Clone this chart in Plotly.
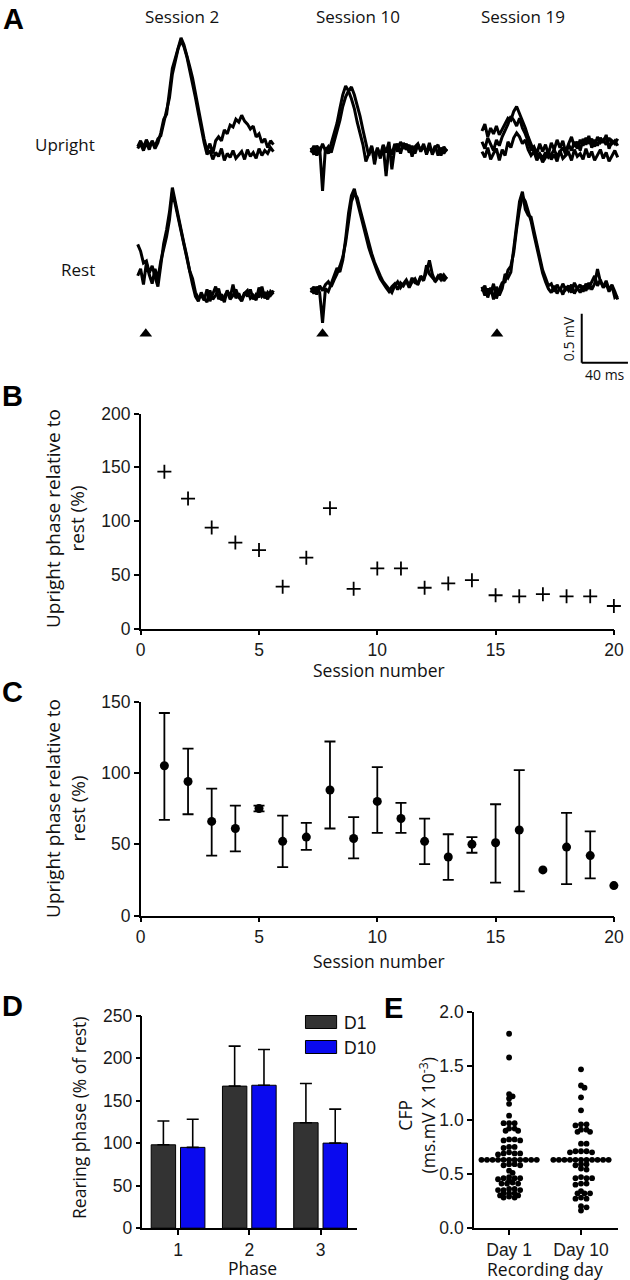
import numpy as np
import plotly.graph_objects as go

# Positions below are given in reference-picture pixels; the page is captured with a
# slight rescale, so they are mapped to figure pixels through SX/OX and SY/OY.
SX, OX = 0.9724, 5.9
SY, OY = 0.9848, 9.3
W, H = 648, 1300
TEXT_FONT = "Open Sans"
TICK_FONT = "Liberation Sans"


def fx(px):
    return ((px - OX) / SX) / W


def fy(px):
    return 1 - ((px - OY) / SY) / H


# ---------------- Panel A: example field-potential sweeps (µV) ----------------
DT_MS = 2.5
sessions = ["Session 2", "Session 10", "Session 19"]
rows = ["Upright", "Rest"]
stim_ms = [7, 10, 13]

s2_up_a = [-20, 40, -30, 50, -10, 30, -40, 20, 120, 260, 310, 520, 780, 880, 1000, 1090, 1020, 920, 800, 680, 520, 360, 200, 60,
           -60, 10, -90, 40, 80, 40, 150, 110, 200, 180, 260, 230, 300, 240, 210, 160, 190, 80, 110, 20, 60, -30, 40, 0]
s2_up_b = [-40, 10, -60, 20, -50, 40, -20, 60, 90, 220, 330, 480, 720, 860, 980, 1060, 1000, 900, 760, 640, 480, 320, 150, 20,
           -100, -60, -150, -80, -120, -40, -160, -90, -130, -60, -140, -100, -70, -150, -50, -120, -80, -140, -40, -110, -60, -90, -30, -70]
s2_rest_a = [370, 300, 180, 200, 80, 150, 40, -60, 160, 380, 520, 700, 950, 800, 680, 520, 380, 250, 100, 20, -120, -180, -150, -200,
             -90, -210, -130, -60, -190, -140, -220, -100, -170, -40, -180, -130, -200, -120, -160, -90, -190, -140, -170, -60, -180, -120, -150, -100]
s2_rest_b = [50, 120, -40, 180, 60, -30, 120, 20, 200, 330, 450, 620, 900, 780, 640, 500, 350, 210, 70, -40, -160, -210, -120, -180,
             -220, -100, -190, -150, -80, -200, -160, -110, -190, -150, -90, -170, -210, -130, -100, -180, -150, -200, -70, -160, -130, -190, -110, -140]
s10_up_a = [-30, 40, -60, 30, -420, 20, -40, 60, 150, 270, 420, 560, 650, 600, 520, 420, 280, 160, 50, -120, -40, 30, -80, 20,
            -90, 40, -270, 30, -50, 60, -20, 80, 10, 60, -30, 40, -40, 50, -10, 60, -50, 30, -30, 40, -60, 20, -40, 10]
s10_up_b = [20, -50, 40, -20, 60, -10, 30, -30, 80, 180, 300, 440, 540, 600, 640, 560, 460, 340, 200, 80, -60, 40, -150, 10,
            -60, 50, -30, 80, -200, 20, 60, -40, 70, 0, 50, -70, 30, 60, -20, 40, -30, 70, -50, 20, 50, -60, 30, -20]
s10_rest_a = [20, -40, 30, -30, -340, 10, -20, 60, 140, 220, 180, 300, 520, 780, 960, 1030, 900, 780, 660, 540, 430, 340, 250, 180,
              110, 60, 20, -20, 30, 60, 0, 70, 40, 90, 20, 80, 110, 50, 130, 90, 250, 160, 120, 90, 140, 100, 150, 110]
s10_rest_b = [-30, 30, -50, 40, -10, 50, 80, 30, 100, 160, 240, 330, 480, 700, 900, 980, 940, 820, 700, 580, 470, 370, 280, 200,
              140, 80, 40, 0, -30, 40, 80, 20, 60, 100, 40, 120, 70, 60, 140, 100, 180, 300, 160, 80, 120, 160, 90, 130]
s19_up_a = [150, 220, 90, 180, 120, 200, 110, 170, 230, 280, 260, 350, 400, 330, 260, 180, 90, 20, -60, -110, -80, -130, -70, -120,
            -90, -40, -110, -60, -20, -90, 10, -50, 40, -30, 60, 0, 80, 20, 70, -10, 90, 30, 60, 10, 80, 20, 50, 0]
s19_up_b = [-60, -120, -20, -140, -80, -30, -150, -40, -100, 40, -20, 80, 130, 90, 20, 60, -40, -100, -60, -150, -90, -170, -120, -60,
            -140, -90, -160, -50, -130, -100, -70, -150, -40, -110, -80, -140, -30, -120, -60, -150, -90, -40, -130, -70, -160, -100, -50, -120]
s19_up_c = [40, -30, 80, 10, -50, 60, 0, 90, 150, 220, 300, 260, 200, 280, 180, 120, 40, -40, -10, -80, 20, -60, 10, -90,
            30, -40, 60, -20, 50, -70, 20, 90, -10, 40, -50, 70, 10, 100, -20, 60, 0, 80, 30, 110, -30, 50, 20, 70]
s19_rest_a = [-20, 40, -80, 20, -100, 30, -60, 10, 160, 120, 180, 420, 700, 900, 1000, 820, 760, 740, 600, 460, 330, 200, 120, 40,
              60, -20, 50, -10, 60, 0, 40, -30, 70, 10, 50, -20, 60, 20, 80, 140, 40, 100, 20, 60, -20, 40, -80, -60]
s19_rest_b = [30, -60, 10, -40, 60, -90, 0, 70, 80, 200, 240, 380, 620, 820, 950, 900, 800, 700, 560, 420, 290, 170, 80, 10,
              -30, 40, -40, 20, -50, 30, -10, 50, -40, 20, -30, 40, -10, 70, 0, 60, 210, 80, 30, 90, 0, 50, -20, -100]

sweeps = {
    ("Session 2", "Upright"): [s2_up_a, s2_up_b],
    ("Session 2", "Rest"): [s2_rest_a, s2_rest_b],
    ("Session 10", "Upright"): [s10_up_a, s10_up_b],
    ("Session 10", "Rest"): [s10_rest_a, s10_rest_b],
    ("Session 19", "Upright"): [s19_up_a, s19_up_b, s19_up_c],
    ("Session 19", "Rest"): [s19_rest_a, s19_rest_b],
}
scale_bar_mv = 0.5
scale_bar_ms = 40

# ---------------- Panel B ----------------
session_num = list(range(1, 21))
b_values = [146, 121, 94, 80, 73, 39, 66, 112, 37, 56, 56, 38, 42, 45, 31, 30, 32, 30, 30, 21]

# ---------------- Panel C ----------------
c_mean = [105, 94, 66, 61, 75, 52, 55, 88, 54, 80, 68, 52, 41, 50, 51, 60, 32, 48, 42, 21]
c_upper = [142, 117, 89, 77, 77, 70, 65, 122, 69, 104, 79, 68, 57, 55, 78, 102, None, 72, 59, None]
c_lower = [67, 71, 42, 45, 73, 34, 46, 61, 40, 58, 58, 36, 25, 44, 23, 17, None, 22, 26, None]

# ---------------- Panel D ----------------
phases = [1, 2, 3]
d1_mean = [98, 167, 124]
d1_sd = [28, 47, 46]
d10_mean = [95, 168, 100]
d10_sd = [33, 42, 40]

# ---------------- Panel E ----------------
day_labels = ["Day 1", "Day 10"]
day1_cfp = [1.80, 1.58, 1.24, 1.22, 1.20, 1.15, 1.04, 0.97, 0.97, 0.97, 0.92, 0.92, 0.90, 0.90, 0.82, 0.82, 0.81, 0.81,
            0.75, 0.75, 0.74, 0.70, 0.69, 0.69, 0.69, 0.68, 0.63, 0.63, 0.63, 0.63, 0.63, 0.63, 0.63, 0.63, 0.63, 0.63, 0.63,
            0.59, 0.59, 0.58, 0.58, 0.53, 0.51, 0.47, 0.46, 0.46, 0.46, 0.45, 0.44, 0.42, 0.41, 0.41, 0.41,
            0.36, 0.36, 0.35, 0.35, 0.35, 0.32, 0.32, 0.32, 0.30, 0.30, 0.29, 0.28, 0.28]
day10_cfp = [1.47, 1.32, 1.30, 1.21, 1.09, 0.96, 0.96, 0.95, 0.91, 0.91, 0.89, 0.89, 0.78, 0.78, 0.71, 0.71, 0.71, 0.70, 0.70,
             0.63, 0.63, 0.63, 0.63, 0.63, 0.63, 0.63, 0.63, 0.63, 0.63, 0.63, 0.59, 0.59, 0.58, 0.55, 0.54,
             0.47, 0.46, 0.46, 0.46, 0.41, 0.41, 0.40, 0.34, 0.32, 0.32, 0.32, 0.28, 0.27, 0.27, 0.20, 0.19, 0.16]

fig = go.Figure()

# ---------------- Panel A drawing ----------------
A_PX_PER_MS = 1.15      # reference pixels per ms
A_PX_PER_UV = 0.098     # reference pixels per µV
A_BOT = 400
col_start_ms = [120, 270, 418]
row_base_px = {"Upright": [144, 149, 145], "Rest": [280, 289, 289]}
A_LEFT_REF = OX                      # reference px at figure x = 0
A_RIGHT_REF = OX + SX * W            # reference px at figure x = W
A_TOP_REF = OY                       # reference px at figure y = 0


def a_uv(px):
    return (A_BOT - px) / A_PX_PER_UV


for c, sess in enumerate(sessions):
    for row in rows:
        base = a_uv(row_base_px[row][c])
        for sw in sweeps[(sess, row)]:
            t = col_start_ms[c] + DT_MS * np.arange(len(sw))
            fig.add_trace(go.Scatter(x=t, y=base + np.array(sw), mode="lines",
                                     line=dict(color="black", width=3), xaxis="x", yaxis="y",
                                     hoverinfo="skip", showlegend=False))

fig.add_trace(go.Scatter(x=[col_start_ms[i] + stim_ms[i] for i in range(3)], y=[a_uv(333)] * 3,
                         mode="markers", marker=dict(symbol="triangle-up", size=11, color="black"),
                         xaxis="x", yaxis="y", showlegend=False, hoverinfo="skip"))

sb_x0 = 580 / A_PX_PER_MS
sb_y0 = a_uv(362)
shapes = [
    dict(type="line", xref="x", yref="y", x0=sb_x0, x1=sb_x0, y0=sb_y0, y1=sb_y0 + scale_bar_mv * 1000,
         line=dict(color="black", width=2)),
    dict(type="line", xref="x", yref="y", x0=sb_x0, x1=sb_x0 + scale_bar_ms, y0=sb_y0, y1=sb_y0,
         line=dict(color="black", width=2)),
]

# ---------------- Panel B ----------------
fig.add_trace(go.Scatter(x=session_num, y=b_values, mode="markers", xaxis="x2", yaxis="y2",
                         marker=dict(symbol="cross-thin", size=10, line=dict(color="black", width=1.8)),
                         cliponaxis=False, showlegend=False))

# ---------------- Panel C ----------------
idx_err = [i for i in range(20) if c_upper[i] is not None]
idx_noerr = [i for i in range(20) if c_upper[i] is None]
fig.add_trace(go.Scatter(x=[session_num[i] for i in idx_err], y=[c_mean[i] for i in idx_err],
                         mode="markers", xaxis="x3", yaxis="y3",
                         marker=dict(symbol="circle", size=9, color="black"),
                         error_y=dict(type="data", symmetric=False,
                                      array=[c_upper[i] - c_mean[i] for i in idx_err],
                                      arrayminus=[c_mean[i] - c_lower[i] for i in idx_err],
                                      color="black", thickness=1.8, width=5.5),
                         cliponaxis=False, showlegend=False))
fig.add_trace(go.Scatter(x=[session_num[i] for i in idx_noerr], y=[c_mean[i] for i in idx_noerr],
                         mode="markers", xaxis="x3", yaxis="y3",
                         marker=dict(symbol="circle", size=9, color="black"),
                         cliponaxis=False, showlegend=False))

# ---------------- Panel D ----------------
D_DARK = "#333333"
D_BLUE = "#0a0aef"
fig.add_trace(go.Bar(x=phases, y=d1_mean, name="D1", xaxis="x4", yaxis="y4",
                     marker=dict(color=D_DARK, line=dict(color="black", width=1)),
                     error_y=dict(type="data", symmetric=False, array=d1_sd, arrayminus=[0] * 3,
                                  color="black", thickness=1.6, width=6),
                     showlegend=False))
fig.add_trace(go.Bar(x=phases, y=d10_mean, name="D10", xaxis="x4", yaxis="y4",
                     marker=dict(color=D_BLUE, line=dict(color="black", width=1)),
                     error_y=dict(type="data", symmetric=False, array=d10_sd, arrayminus=[0] * 3,
                                  color="black", thickness=1.6, width=6),
                     showlegend=False))
shapes += [
    dict(type="rect", xref="paper", yref="paper", x0=fx(305), x1=fx(336), y0=fy(1028), y1=fy(1015),
         fillcolor=D_DARK, line=dict(color="black", width=1)),
    dict(type="rect", xref="paper", yref="paper", x0=fx(305), x1=fx(336), y0=fy(1053), y1=fy(1040),
         fillcolor=D_BLUE, line=dict(color="black", width=1)),
]

# ---------------- Panel E ----------------
E_X0, E_X1 = 472.7, 616.0
E_Y0, E_Y1 = 1227.3, 1011.7
E_RANGE_X = [0.511, 2.513]
E_RANGE_Y = [0, 2]
E_PX_PER_CAT = (E_X1 - E_X0) / (E_RANGE_X[1] - E_RANGE_X[0])
E_PX_PER_Y = (E_Y0 - E_Y1) / (E_RANGE_Y[1] - E_RANGE_Y[0])
DOT_D = 5.5
ROW_SQUASH = 2.0  # points on nearby rows may overlap a little, as in the reference


def beeswarm(vals):
    placed = []
    offs = [0.0] * len(vals)
    order = sorted(range(len(vals)), key=lambda i: -vals[i])
    cands = [0.0]
    for k in range(1, 200):
        cands += [k * 0.5, -k * 0.5]
    for i in order:
        ypx = vals[i] * E_PX_PER_Y
        for cnd in cands:
            if all((cnd - px) ** 2 + (ROW_SQUASH * (ypx - py)) ** 2 >= DOT_D ** 2 for px, py in placed):
                placed.append((cnd, ypx))
                offs[i] = cnd / E_PX_PER_CAT
                break
    return offs


for gi, vals in enumerate([day1_cfp, day10_cfp]):
    xc = gi + 1
    offs = beeswarm(vals)
    fig.add_trace(go.Scatter(x=[xc + o for o in offs], y=vals, mode="markers", xaxis="x5", yaxis="y5",
                             marker=dict(size=5.8, color="black"), cliponaxis=False, showlegend=False))
    med = float(np.median(vals))
    fig.add_trace(go.Scatter(x=[xc - 0.42, xc + 0.42], y=[med, med], mode="lines", xaxis="x5", yaxis="y5",
                             line=dict(color="black", width=2), showlegend=False))

# ---------------- Layout ----------------
tickfont = dict(family=TICK_FONT, size=17.5, color="#1a1a1a")
ax = dict(showline=True, linecolor="black", linewidth=1.6, ticks="outside", ticklen=5, tickwidth=1.6,
          tickcolor="black", showgrid=False, zeroline=False, tickfont=tickfont, fixedrange=True)

fig.update_layout(
    width=W, height=H, margin=dict(l=0, r=0, t=0, b=0),
    paper_bgcolor="white", plot_bgcolor="white", showlegend=False,
    barmode="group", bargap=0.177, bargroupgap=0.168,
    xaxis=dict(domain=[0, 1], range=[A_LEFT_REF / A_PX_PER_MS, A_RIGHT_REF / A_PX_PER_MS],
               visible=False, anchor="y", fixedrange=True),
    yaxis=dict(domain=[fy(A_BOT), 1], range=[0, a_uv(A_TOP_REF)], visible=False, anchor="x",
               fixedrange=True),
    xaxis2=dict(ax, domain=[fx(141), fx(612)], range=[0, 20], tickvals=[0, 5, 10, 15, 20], anchor="y2"),
    yaxis2=dict(ax, domain=[fy(628), fy(413)], range=[0, 200], tickvals=[0, 50, 100, 150, 200], anchor="x2"),
    xaxis3=dict(ax, domain=[fx(141), fx(612)], range=[0, 20], tickvals=[0, 5, 10, 15, 20], anchor="y3"),
    yaxis3=dict(ax, domain=[fy(915), fy(701)], range=[0, 150], tickvals=[0, 50, 100, 150], anchor="x3"),
    xaxis4=dict(ax, domain=[fx(142.7), fx(356.7)], range=[0.5, 3.517], tickvals=phases, anchor="y4"),
    yaxis4=dict(ax, domain=[fy(1227.7), fy(1015)], range=[0, 250], tickvals=[0, 50, 100, 150, 200, 250], anchor="x4"),
    xaxis5=dict(ax, domain=[fx(E_X0), fx(E_X1)], range=E_RANGE_X, tickvals=[1, 2], ticktext=day_labels, anchor="y5"),
    yaxis5=dict(ax, domain=[fy(E_Y0), fy(E_Y1)], range=E_RANGE_Y, tickvals=[0, 0.5, 1.0, 1.5, 2.0],
                tickformat=".1f", anchor="x5"),
    shapes=shapes,
)

lab = dict(family=TEXT_FONT, size=17.5, color="#111111")
ylab = dict(family=TEXT_FONT, size=19, color="#111111")
top = dict(family=TEXT_FONT, size=17, color="#111111")
letter = dict(family=TICK_FONT, size=29, color="black")


def ann(text, x, y, font, xanchor="center", yanchor="middle", angle=0):
    return dict(text=text, x=fx(x), y=fy(y), xref="paper", yref="paper", showarrow=False,
                font=font, xanchor=xanchor, yanchor=yanchor, textangle=angle)


annotations = [
    ann("<b>A</b>", 14, 18, letter), ann("<b>B</b>", 13, 395, letter), ann("<b>C</b>", 13, 691, letter),
    ann("<b>D</b>", 13, 1005, letter), ann("<b>E</b>", 393, 1007, letter),
    ann(sessions[0], 182, 16, top), ann(sessions[1], 357, 16, top), ann(sessions[2], 522, 16, top),
    ann(rows[0], 97, 144, top, xanchor="right"), ann(rows[1], 97, 269, top, xanchor="right"),
    ann(f"{scale_bar_mv} mV", 567, 338, dict(top, size=14), angle=-90),
    ann(f"{scale_bar_ms} ms", 603, 374, dict(top, size=14)),
    ann("Upright phase relative to<br>rest (%)", 66, 518, ylab, angle=-90),
    ann("Session number", 378, 669, lab),
    ann("Upright phase relative to<br>rest (%)", 66, 808, ylab, angle=-90),
    ann("Session number", 378, 960, lab),
    ann("Rearing phase (% of rest)", 80, 1117, lab, angle=-90),
    ann("Phase", 252, 1268, lab),
    ann("D1", 341, 1022, dict(family=TICK_FONT, size=17.5, color="#111111"), xanchor="left"),
    ann("D10", 341, 1047, dict(family=TICK_FONT, size=17.5, color="#111111"), xanchor="left"),
    ann("CFP<br>(ms.mV X 10<sup>-3</sup>)", 416, 1115, lab, angle=-90),
    ann("Recording day", 543, 1269, lab),
]
fig.update_layout(annotations=annotations)

fig.write_html("out.html", config={"displayModeBar": False},
               post_script="document.body.style.margin='0px';")
